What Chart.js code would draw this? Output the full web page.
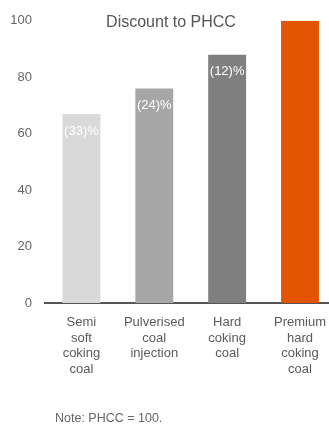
<!DOCTYPE html>
<html>
<head>
<meta charset="utf-8">
<script src="https://cdn.jsdelivr.net/npm/chart.js@4/dist/chart.umd.min.js"></script>
<style>
  html, body { margin: 0; padding: 0; background: #fff; overflow: hidden; }
  #wrap { position: relative; width: 329px; height: 427px; overflow: hidden; }
  canvas { position: absolute; left: 0; top: 0; }
  #note { position: absolute; left: 55px; top: 411px; font: 12.5px "Liberation Sans", Arial, sans-serif; color: #666; white-space: nowrap; }
</style>
</head>
<body>
<div id="wrap">
  <canvas id="c" width="338" height="427"></canvas>
  <div id="note">Note: PHCC = 100.</div>
</div>
<script>
// Coal types, index relative to premium hard coking coal (PHCC = 100)
const categories = [
  ["Semi", "soft", "coking", "coal"],
  ["Pulverised", "coal", "injection"],
  ["Hard", "coking", "coal"],
  ["Premium", "hard", "coking", "coal"]
];
const values = [67, 76, 88, 100];
const barColors = ["#d9d9d9", "#a6a6a6", "#7f7f7f", "#e35400"];
const yTicks = [0, 20, 40, 60, 80, 100];
const chartTitle = "Discount to PHCC";

const FONT = '"Liberation Sans", Arial, sans-serif';

// Discount label inside each bar, below its top (none for the benchmark itself)
const discountLabels = {
  id: "discountLabels",
  afterDatasetsDraw(chart) {
    const ctx = chart.ctx;
    const meta = chart.getDatasetMeta(0);
    ctx.save();
    ctx.font = "13px " + FONT;
    ctx.fillStyle = "#ffffff";
    ctx.textAlign = "center";
    ctx.textBaseline = "middle";
    meta.data.forEach((bar, i) => {
      const v = values[i];
      if (v >= 100) return;
      ctx.fillText("(" + (100 - v) + ")%", bar.x, bar.y + 17);
    });
    ctx.restore();
  }
};

// Chart heading drawn level with the top tick
const headingPlugin = {
  id: "heading",
  afterDraw(chart) {
    const ctx = chart.ctx;
    const y = chart.scales.y.getPixelForValue(100) + 2;
    ctx.save();
    ctx.font = "16px " + FONT;
    ctx.fillStyle = "#555";
    ctx.textAlign = "center";
    ctx.textBaseline = "middle";
    ctx.fillText(chartTitle, chart.chartArea.left + 126, y);
    ctx.restore();
  }
};

new Chart(document.getElementById("c"), {
  type: "bar",
  data: {
    labels: categories,
    datasets: [{
      data: values,
      backgroundColor: barColors,
      borderWidth: 0,
      categoryPercentage: 1,
      barPercentage: 0.52
    }]
  },
  options: {
    responsive: false,
    devicePixelRatio: 1,
    animation: false,
    layout: { padding: { top: 15, left: 0, right: 0, bottom: 0 } },
    plugins: { legend: { display: false }, tooltip: { enabled: false }, title: { display: false } },
    scales: {
      x: {
        grid: { display: false, drawTicks: false },
        border: { display: true, color: "#555", width: 2 },
        ticks: {
          color: "#5a5a5a",
          font: { family: FONT, size: 13, lineHeight: "15.5px" },
          padding: 12,
          maxRotation: 0,
          autoSkip: false
        },
        afterFit(scale) { scale.height = 124; }
      },
      y: {
        min: 0,
        max: 100,
        grid: { display: false, drawTicks: false },
        border: { display: false },
        afterBuildTicks(scale) { scale.ticks = yTicks.map(v => ({ value: v })); },
        ticks: {
          color: "#666",
          font: { family: FONT, size: 13 },
          padding: 13
        },
        afterFit(scale) { scale.width = 45; }
      }
    }
  },
  plugins: [discountLabels, headingPlugin]
});
</script>
</body>
</html>
